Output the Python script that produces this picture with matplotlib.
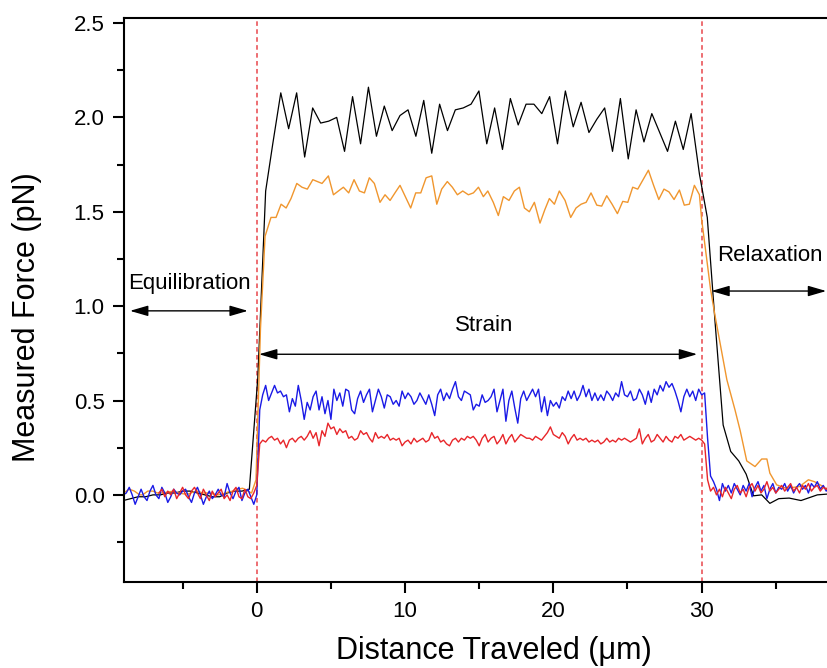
import numpy as np
import matplotlib.pyplot as plt
from matplotlib.ticker import MultipleLocator, FixedLocator

plt.rcParams['font.family'] = ['Liberation Sans', 'DejaVu Sans']

# =========================
# 1. Data
# =========================

# black trace (coarse sampling, highest plateau)
black_x = [-9.0, -8.5, -8.0, -7.5, -7.0, -6.5, -6.0, -5.5, -5.0, -4.5,
           -4.0, -3.5, -3.0, -2.5, -2.0, -1.5, -1.0, -0.5, 0.07, 0.6,
           1.08, 1.62, 2.15, 2.69, 3.23, 3.77, 4.31, 4.85, 5.39, 5.92,
           6.46, 7.0, 7.53, 8.07, 8.6, 9.13, 9.66, 10.2, 10.73, 11.26,
           11.8, 12.33, 12.86, 13.39, 13.92, 14.45, 14.98, 15.51, 16.04, 16.57,
           17.1, 17.63, 18.16, 18.69, 19.22, 19.75, 20.28, 20.81, 21.34, 21.87,
           22.4, 22.93, 23.46, 23.99, 24.52, 25.05, 25.58, 26.11, 26.64, 27.17,
           27.7, 28.23, 28.76, 29.29, 29.85, 30.38, 30.9, 31.45, 31.96, 32.5,
           33.0, 33.5, 34.05, 34.6, 35.2, 35.9, 36.7, 37.8, 38.6]
black_y = [-0.03, -0.02, -0.01, -0.01, 0.0, 0.0, 0.01, 0.01, 0.02, 0.02,
           0.01, 0.0, -0.01, -0.01, 0.01, 0.02, 0.02, 0.03, 0.62, 1.61,
           1.86, 2.13, 1.94, 2.13, 1.79, 2.05, 1.97, 1.98, 2.00, 1.82,
           2.11, 1.86, 2.16, 1.90, 2.06, 1.93, 2.01, 2.04, 1.90, 2.09,
           1.81, 2.07, 1.93, 2.04, 2.05, 2.07, 2.14, 1.86, 2.05, 1.83,
           2.10, 1.96, 2.07, 2.07, 2.02, 2.11, 1.86, 2.14, 1.95, 2.08,
           1.92, 1.99, 2.05, 1.82, 2.10, 1.78, 2.04, 1.87, 2.02, 1.92,
           1.82, 1.98, 1.83, 2.02, 1.70, 1.47, 0.92, 0.37, 0.23, 0.18,
           0.11, -0.005, 0.0, -0.045, -0.02, -0.017, -0.03, 0.0, 0.005]

# orange trace
orange_x = [-9.0, -8.6, -8.25, -7.9, -7.7, -7.35, -7.0, -6.7, -6.35, -6.0,
            -5.6, -5.3, -4.9, -4.6, -4.3, -4.0, -3.65, -3.3, -2.95, -2.6,
            -2.3, -1.95, -1.6, -1.3, -0.95, -0.6, -0.35, -0.05, 0.25, 0.56,
            0.96, 1.30, 1.64, 1.98, 2.31, 2.70, 3.05, 3.41, 3.78, 4.10,
            4.40, 4.83, 5.17, 5.50, 5.84, 6.20, 6.56, 6.92, 7.26, 7.59,
            7.93, 8.31, 8.65, 8.99, 9.32, 9.66, 10.02, 10.38, 10.72, 11.06,
            11.42, 11.8, 12.14, 12.47, 12.85, 13.19, 13.53, 13.89, 14.27, 14.61,
            14.95, 15.28, 15.58, 15.95, 16.29, 16.63, 17.01, 17.37, 17.71, 18.05,
            18.38, 18.72, 19.10, 19.42, 19.73, 20.07, 20.40, 20.79, 21.17, 21.53,
            21.87, 22.21, 22.54, 22.93, 23.26, 23.60, 23.96, 24.32, 24.68, 25.02,
            25.35, 25.69, 26.05, 26.41, 26.76, 27.11, 27.46, 27.80, 28.14, 28.50,
            28.83, 29.17, 29.51, 29.85, 30.0, 30.6, 30.9, 31.7, 32.25, 32.6,
            33.04, 33.6, 34.05, 34.4, 34.6, 35.06, 35.7, 36.6, 37.2, 37.6,
            38.2, 38.6]
orange_y = [0.01, 0.03, 0.02, 0.0, 0.0, 0.02, 0.02, 0.01, 0.01, 0.015,
            0.02, 0.01, 0.005, 0.005, 0.015, 0.02, 0.01, 0.01, 0.005, 0.0,
            0.005, 0.015, 0.02, 0.03, 0.035, 0.02, 0.01, 0.08, 0.88, 1.37,
            1.47, 1.47, 1.54, 1.52, 1.57, 1.65, 1.63, 1.62, 1.67, 1.66,
            1.65, 1.69, 1.59, 1.61, 1.63, 1.60, 1.67, 1.61, 1.60, 1.68,
            1.65, 1.55, 1.59, 1.56, 1.60, 1.64, 1.58, 1.52, 1.60, 1.60,
            1.68, 1.69, 1.54, 1.62, 1.66, 1.63, 1.59, 1.61, 1.59, 1.60,
            1.63, 1.58, 1.61, 1.55, 1.48, 1.58, 1.56, 1.61, 1.63, 1.52,
            1.50, 1.55, 1.44, 1.51, 1.57, 1.54, 1.61, 1.56, 1.47, 1.52,
            1.54, 1.55, 1.60, 1.535, 1.53, 1.585, 1.54, 1.49, 1.555, 1.55,
            1.63, 1.62, 1.67, 1.72, 1.64, 1.565, 1.62, 1.605, 1.565, 1.615,
            1.535, 1.54, 1.64, 1.59, 1.46, 1.09, 0.95, 0.61, 0.45, 0.34,
            0.18, 0.15, 0.19, 0.19, 0.115, 0.053, 0.035, 0.044, 0.08, 0.07,
            0.044, 0.02]

# blue and red traces: fine sampling every 0.2 um, three segments each
step = 0.2

blue_pre_start = -9.0
blue_pre = [0.00, 0.01, 0.04, 0.00, -0.05, -0.01, 0.03, -0.01, -0.03, 0.02,
            0.05, 0.00, -0.02, 0.04, 0.01, -0.04, -0.01, 0.03, 0.01, 0.00,
            0.02, 0.03, -0.01, -0.04, 0.01, 0.04, 0.00, -0.05, -0.01, 0.02,
            -0.02, 0.00, 0.03, 0.00, -0.01, 0.06, 0.01, -0.02, 0.02, 0.04,
            -0.03, 0.01, 0.03, -0.01, -0.05, 0.00]
blue_mid_start = 0.2
blue_mid = [0.45, 0.53, 0.58, 0.50, 0.54, 0.58, 0.54, 0.55, 0.52, 0.53,
            0.44, 0.51, 0.47, 0.58, 0.50, 0.40, 0.49, 0.45, 0.52, 0.55,
            0.45, 0.52, 0.43, 0.50, 0.40, 0.56, 0.50, 0.54, 0.47, 0.56,
            0.55, 0.45, 0.43, 0.51, 0.55, 0.49, 0.53, 0.56, 0.44, 0.50,
            0.56, 0.52, 0.46, 0.53, 0.52, 0.48, 0.50, 0.47, 0.55, 0.51,
            0.54, 0.52, 0.48, 0.50, 0.54, 0.51, 0.48, 0.53, 0.48, 0.42,
            0.53, 0.56, 0.50, 0.54, 0.51, 0.56, 0.60, 0.52, 0.50, 0.55,
            0.54, 0.53, 0.45, 0.48, 0.47, 0.53, 0.49, 0.50, 0.52, 0.56,
            0.44, 0.50, 0.56, 0.39, 0.50, 0.55, 0.46, 0.38, 0.51, 0.55,
            0.50, 0.53, 0.56, 0.52, 0.56, 0.44, 0.52, 0.42, 0.50, 0.47,
            0.49, 0.46, 0.52, 0.50, 0.55, 0.51, 0.55, 0.50, 0.53, 0.58,
            0.52, 0.56, 0.50, 0.54, 0.50, 0.53, 0.50, 0.55, 0.53, 0.50,
            0.54, 0.52, 0.60, 0.53, 0.52, 0.55, 0.50, 0.51, 0.56, 0.53,
            0.48, 0.55, 0.49, 0.56, 0.53, 0.58, 0.55, 0.60, 0.57, 0.59,
            0.55, 0.50, 0.44, 0.52, 0.56, 0.52, 0.55, 0.50, 0.56, 0.53,
            0.54]
blue_post_start = 30.4
blue_post = [0.30, 0.10, 0.07, 0.03, -0.03, 0.06, 0.02, 0.05, 0.01, 0.06,
             0.03, 0.00, 0.05, 0.02, 0.06, -0.01, 0.04, 0.07, 0.02, 0.05,
             -0.02, 0.03, 0.06, 0.01, 0.04, 0.03, 0.06, 0.02, 0.05, 0.01,
             0.04, 0.06, 0.03, 0.05, 0.01, 0.06, 0.04, 0.07, 0.03, 0.05,
             0.02, 0.04]

red_pre_start = -6.6
red_pre = [0.01, 0.03, -0.01, 0.02, 0.00, 0.03, -0.02, 0.01, 0.04, 0.00,
           -0.02, 0.02, 0.04, 0.01, -0.02, 0.03, 0.00, -0.03, 0.02, -0.01,
           0.01, 0.03, -0.02, 0.00, -0.03, 0.02, 0.04, -0.01, -0.02, 0.03,
           -0.01, -0.02, 0.01, 0.05]
red_mid_start = 0.2
red_mid = [0.27, 0.29, 0.28, 0.30, 0.31, 0.29, 0.30, 0.27, 0.29, 0.25,
           0.29, 0.30, 0.28, 0.30, 0.31, 0.29, 0.31, 0.34, 0.30, 0.33,
           0.26, 0.34, 0.31, 0.38, 0.35, 0.36, 0.32, 0.35, 0.33, 0.34,
           0.30, 0.31, 0.29, 0.30, 0.34, 0.32, 0.33, 0.30, 0.28, 0.33,
           0.30, 0.31, 0.30, 0.32, 0.29, 0.30, 0.29, 0.30, 0.26, 0.28,
           0.29, 0.27, 0.30, 0.28, 0.29, 0.30, 0.28, 0.29, 0.33, 0.30,
           0.31, 0.28, 0.29, 0.27, 0.26, 0.29, 0.30, 0.28, 0.30, 0.29,
           0.31, 0.30, 0.31, 0.29, 0.26, 0.30, 0.32, 0.28, 0.30, 0.31,
           0.27, 0.29, 0.32, 0.27, 0.30, 0.32, 0.28, 0.30, 0.32, 0.31,
           0.30, 0.30, 0.29, 0.31, 0.30, 0.29, 0.31, 0.33, 0.36, 0.32,
           0.31, 0.30, 0.33, 0.31, 0.27, 0.30, 0.32, 0.29, 0.30, 0.29,
           0.30, 0.28, 0.29, 0.28, 0.29, 0.27, 0.28, 0.30, 0.28, 0.29,
           0.28, 0.30, 0.29, 0.30, 0.29, 0.28, 0.29, 0.30, 0.35, 0.27,
           0.30, 0.32, 0.28, 0.29, 0.32, 0.30, 0.28, 0.31, 0.29, 0.28,
           0.31, 0.30, 0.32, 0.29, 0.30, 0.31, 0.30, 0.29, 0.30, 0.29,
           0.27]
red_post_start = 30.4
red_post = [0.08, 0.02, 0.04, 0.00, 0.03, -0.01, 0.04, 0.01, -0.02, 0.03,
            0.05, 0.01, 0.03, -0.01, 0.04, 0.06, 0.02, 0.05, 0.01, 0.03,
            0.07, 0.02, 0.04, 0.01, 0.03, 0.05, 0.02, 0.04, 0.06, 0.02,
            0.04, 0.01, 0.05, 0.03, 0.06, 0.02, 0.04, 0.05, 0.02, 0.04,
            0.03, 0.05]

phase_bounds = [0, 30]
x_major = [0, 10, 20, 30]
x_minor = [-5, 5, 15, 25, 35]


def sampled(segments):
    xs, ys = [], []
    for start, vals in segments:
        xs.extend(start + step * np.arange(len(vals)))
        ys.extend(vals)
    return np.array(xs), np.array(ys)


blue_x, blue_y = sampled([(blue_pre_start, blue_pre), (blue_mid_start, blue_mid),
                          (blue_post_start, blue_post)])
red_x, red_y = sampled([(red_pre_start, red_pre), (red_mid_start, red_mid),
                        (red_post_start, red_post)])

# =========================
# 2. Plot
# =========================

fig = plt.figure(figsize=(8.28, 6.68), dpi=100)
ax = fig.add_axes([0.1498, 0.1292, 0.8767, 0.8434])

ax.plot(black_x, black_y, color='black', lw=0.9)
ax.plot(orange_x, orange_y, color='#f0962e', lw=1.0)
ax.plot(blue_x, blue_y, color='#1a1ae6', lw=1.0)
ax.plot(red_x, red_y, color='#e8262a', lw=1.0)

for xb in phase_bounds:
    ax.axvline(xb, color='#e8474c', lw=1.1, linestyle=(0, (3, 2.2)), zorder=0)

ax.set_xlim(-8.95, 40)
ax.set_ylim(-0.46, 2.525)

ax.xaxis.set_major_locator(FixedLocator(x_major))
ax.xaxis.set_minor_locator(FixedLocator(x_minor))
ax.yaxis.set_major_locator(MultipleLocator(0.5))
ax.yaxis.set_minor_locator(MultipleLocator(0.25))
ax.yaxis.set_major_formatter(plt.FormatStrFormatter('%.1f'))

ax.tick_params(which='major', direction='out', length=8, width=1.5,
               labelsize=16, pad=6)
ax.tick_params(which='minor', direction='out', length=5, width=1.5)
for sp in ax.spines.values():
    sp.set_linewidth(1.5)

ax.set_xlabel('Distance Traveled (\u03bcm)', fontsize=22)
ax.xaxis.set_label_coords(0.5097, -0.096)
ax.set_ylabel('Measured Force (pN)', fontsize=22)
ax.yaxis.set_label_coords(-0.113, 0.47)

# phase annotations
arrow = dict(arrowstyle='<|-|>,head_length=0.55,head_width=0.16',
             color='black', lw=1.0, shrinkA=0, shrinkB=0, mutation_scale=20)
ax.annotate('', xy=(-8.55, 0.975), xytext=(-0.6, 0.975), arrowprops=arrow)
ax.annotate('', xy=(0.15, 0.745), xytext=(29.7, 0.745), arrowprops=arrow)
ax.annotate('', xy=(30.65, 1.08), xytext=(38.4, 1.08), arrowprops=arrow)

ax.text(-4.55, 1.118, 'Equilibration', fontsize=16, ha='center', va='center')
ax.text(15.34, 0.896, 'Strain', fontsize=16, ha='center', va='center')
ax.text(34.6, 1.267, 'Relaxation', fontsize=16, ha='center', va='center')

fig.savefig('out.png', dpi=100)
